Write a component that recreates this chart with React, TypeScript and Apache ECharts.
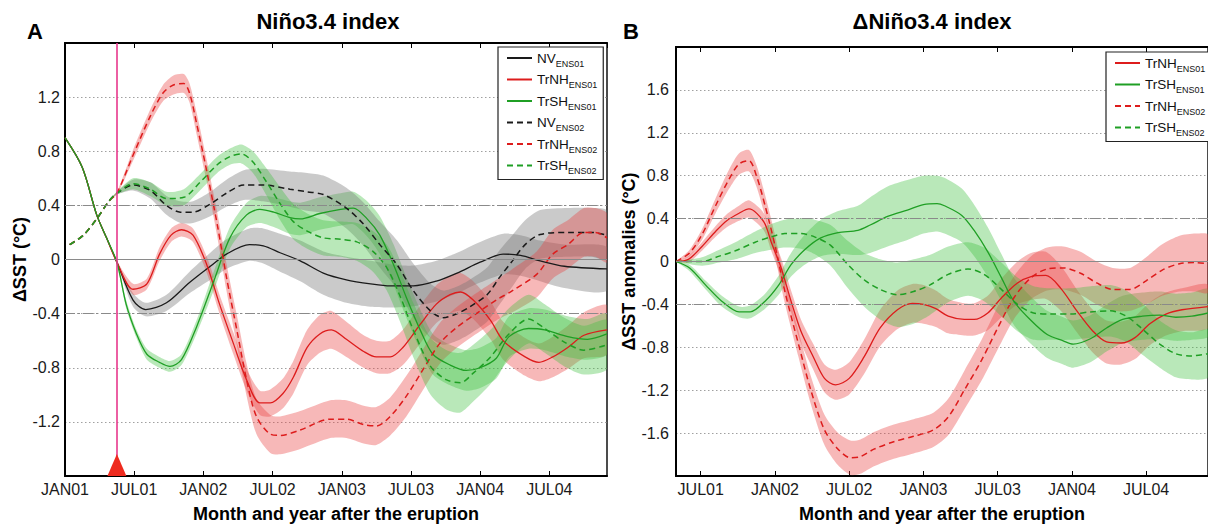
import React, { useEffect, useRef } from "react";
import * as echarts from "echarts";

// [month since JAN01, mean anomaly (°C), ensemble spread half-width (°C)]
type P = [number, number, number];

const xTickMonths = [0, 6, 12, 18, 24, 30, 36, 42];
const xTickLabels = ["JAN01", "JUL01", "JAN02", "JUL02", "JAN03", "JUL03", "JAN04", "JUL04"];
const eruptionMonth = 4.5;
const refLines = [0.4, -0.4];

// ---- Panel A : Niño3.4 index ----
const NV_ENS01: P[] = [
  [0, 0.9, 0], [1.5, 0.68, 0], [2.75, 0.33, 0], [3.6, 0.16, 0], [4.5, -0.02, 0.01],
  [5.9, -0.3, 0.05], [7, -0.37, 0.05], [8.8, -0.32, 0.06], [10.8, -0.17, 0.08], [12.6, -0.05, 0.1],
  [14, 0.04, 0.11], [16, 0.11, 0.12], [17.2, 0.1, 0.13], [18.65, 0.05, 0.14], [20.4, -0.01, 0.15],
  [22.4, -0.1, 0.16], [24.4, -0.15, 0.17], [26.5, -0.18, 0.17], [28.2, -0.195, 0.16], [30.2, -0.195, 0.15],
  [32.2, -0.16, 0.15], [34, -0.1, 0.15], [36, -0.02, 0.15], [38, 0.04, 0.15], [39.5, 0.03, 0.15],
  [41.2, -0.01, 0.15], [43.3, -0.05, 0.16], [47, -0.07, 0.16],
];
const TrNH_ENS01: P[] = [
  [0, 0.9, 0], [1.5, 0.68, 0], [2.75, 0.33, 0], [3.6, 0.16, 0], [4.5, -0.02, 0.01],
  [5.9, -0.22, 0.04], [7.1, -0.18, 0.04], [8.2, 0.04, 0.05], [9.2, 0.18, 0.05], [10.1, 0.22, 0.05],
  [11.1, 0.18, 0.05], [12.3, -0.04, 0.06], [13.4, -0.33, 0.07], [14.6, -0.62, 0.08], [15.75, -0.89, 0.08],
  [16.9, -1.06, 0.09], [17.8, -1.06, 0.1], [18.9, -0.99, 0.11], [19.8, -0.87, 0.12], [21, -0.65, 0.13],
  [22.1, -0.55, 0.14], [23.1, -0.52, 0.14], [24.4, -0.59, 0.13], [25.9, -0.68, 0.12], [27, -0.72, 0.12],
  [28.2, -0.72, 0.12], [29.3, -0.65, 0.13], [30.8, -0.48, 0.14], [32.2, -0.33, 0.14], [33.4, -0.26, 0.14],
  [34.3, -0.24, 0.14], [35.4, -0.3, 0.14], [36.9, -0.45, 0.14], [38, -0.6, 0.14], [39.9, -0.72, 0.14],
  [41.1, -0.76, 0.14], [42.3, -0.72, 0.15], [43.6, -0.65, 0.16], [45, -0.56, 0.17], [47, -0.52, 0.18],
];
const TrSH_ENS01: P[] = [
  [0, 0.9, 0], [1.5, 0.68, 0], [2.75, 0.33, 0], [3.6, 0.16, 0], [4.5, -0.02, 0.01],
  [5.3, -0.33, 0.03], [6.2, -0.55, 0.03], [7.1, -0.7, 0.04], [8.2, -0.76, 0.04], [9.1, -0.79, 0.04],
  [10.1, -0.74, 0.04], [11.4, -0.5, 0.05], [12.9, -0.16, 0.07], [14.3, 0.16, 0.08], [15.75, 0.33, 0.09],
  [16.9, 0.37, 0.1], [18.1, 0.35, 0.11], [19.5, 0.31, 0.12], [20.4, 0.3, 0.12], [22.1, 0.34, 0.12],
  [23.9, 0.37, 0.12], [25, 0.38, 0.12], [26.2, 0.3, 0.13], [27.3, 0.18, 0.14], [28.5, -0.04, 0.15],
  [29.6, -0.28, 0.15], [30.8, -0.52, 0.15], [31.9, -0.7, 0.15], [33.4, -0.78, 0.15], [34.8, -0.82, 0.15],
  [36, -0.8, 0.15], [37.4, -0.73, 0.15], [38.5, -0.57, 0.15], [40.2, -0.51, 0.15], [41.6, -0.52, 0.15],
  [43.6, -0.57, 0.15], [45.3, -0.59, 0.15], [47, -0.55, 0.15],
];
const NV_ENS02: P[] = [
  [0.4, 0.11, 0], [1.6, 0.18, 0], [2.75, 0.3, 0], [3.8, 0.43, 0], [4.5, 0.49, 0.01],
  [5.9, 0.55, 0.04], [7.4, 0.51, 0.06], [8.8, 0.4, 0.07], [10, 0.35, 0.08], [11.1, 0.35, 0.08],
  [12.6, 0.41, 0.09], [14, 0.49, 0.1], [15.5, 0.55, 0.11], [17.2, 0.55, 0.12], [19.5, 0.52, 0.13],
  [21, 0.5, 0.14], [22.4, 0.48, 0.14], [24.4, 0.38, 0.15], [25.9, 0.26, 0.16], [27.3, 0.11, 0.17],
  [28.8, -0.04, 0.18], [30.2, -0.23, 0.2], [31.7, -0.38, 0.2], [32.8, -0.43, 0.2], [34, -0.4, 0.2],
  [35.1, -0.35, 0.2], [36.6, -0.26, 0.2], [37.7, -0.13, 0.2], [38.8, -0.01, 0.19], [39.9, 0.11, 0.18],
  [41.2, 0.185, 0.18], [43.6, 0.2, 0.18], [45.7, 0.2, 0.18], [47, 0.18, 0.18],
];
const TrNH_ENS02: P[] = [
  [0.4, 0.11, 0], [1.6, 0.18, 0], [2.75, 0.3, 0], [3.8, 0.43, 0], [4.5, 0.49, 0.01],
  [5.9, 0.77, 0.04], [7.4, 1.06, 0.05], [8.5, 1.23, 0.06], [9.4, 1.29, 0.07], [10.3, 1.3, 0.07],
  [10.8, 1.23, 0.07], [11.4, 1.01, 0.08], [12.3, 0.65, 0.08], [13.2, 0.26, 0.09], [14, -0.13, 0.1],
  [14.9, -0.52, 0.11], [15.75, -0.89, 0.12], [16.6, -1.16, 0.13], [17.8, -1.29, 0.14], [18.65, -1.3, 0.14],
  [20.4, -1.26, 0.14], [23, -1.18, 0.14], [24.4, -1.18, 0.14], [25.9, -1.22, 0.14], [27, -1.23, 0.14],
  [28.2, -1.16, 0.14], [29.6, -1.01, 0.15], [31, -0.82, 0.15], [32.5, -0.62, 0.15], [34, -0.5, 0.15],
  [36, -0.38, 0.15], [37.4, -0.3, 0.15], [38.8, -0.23, 0.16], [40.9, -0.11, 0.17], [42.3, 0.04, 0.18],
  [43.6, 0.11, 0.18], [45, 0.2, 0.18], [46, 0.2, 0.18], [47, 0.16, 0.18],
];
const TrSH_ENS02: P[] = [
  [0.4, 0.11, 0], [1.6, 0.18, 0], [2.75, 0.3, 0], [3.8, 0.43, 0], [4.5, 0.49, 0.01],
  [5.9, 0.56, 0.04], [7.4, 0.52, 0.05], [8.8, 0.45, 0.05], [10.3, 0.46, 0.06], [11.7, 0.57, 0.06],
  [13.2, 0.7, 0.06], [14.3, 0.76, 0.06], [15.3, 0.78, 0.07], [16.3, 0.72, 0.08], [17.5, 0.57, 0.1],
  [18.6, 0.42, 0.12], [19.8, 0.28, 0.13], [21, 0.21, 0.13], [22.4, 0.16, 0.13], [23.9, 0.15, 0.13],
  [25.3, 0.13, 0.14], [26.7, 0.06, 0.15], [27.9, -0.06, 0.17], [29.1, -0.28, 0.19], [30.2, -0.52, 0.2],
  [31.7, -0.79, 0.21], [33.1, -0.89, 0.22], [34.3, -0.91, 0.22], [35.4, -0.84, 0.21], [36.9, -0.72, 0.2],
  [38.5, -0.55, 0.19], [40.2, -0.44, 0.18], [41.6, -0.51, 0.18], [43.3, -0.61, 0.18], [45, -0.67, 0.18],
  [47, -0.63, 0.18],
];

// ---- Panel B : ΔNiño3.4 index (difference to NV) ----
const dTrNH_ENS01: P[] = [
  [4, 0, 0], [5, 0.02, 0.03], [6.1, 0.14, 0.04], [7.2, 0.28, 0.05], [8.1, 0.38, 0.06],
  [9.1, 0.45, 0.07], [9.9, 0.49, 0.08], [11.1, 0.37, 0.08], [11.7, 0.18, 0.08], [12.5, -0.06, 0.09],
  [13.3, -0.37, 0.1], [14.1, -0.65, 0.11], [15.1, -0.89, 0.12], [16, -1.09, 0.13], [16.9, -1.15, 0.14],
  [18, -1.09, 0.15], [19.2, -0.89, 0.16], [20.5, -0.62, 0.17], [21.9, -0.45, 0.18], [23.1, -0.39, 0.18],
  [24, -0.4, 0.18], [25, -0.44, 0.17], [26, -0.51, 0.16], [27.3, -0.54, 0.15], [28.1, -0.54, 0.15],
  [29.2, -0.48, 0.16], [30.3, -0.34, 0.18], [31.6, -0.2, 0.2], [32.7, -0.14, 0.22], [33.9, -0.13, 0.22],
  [35.1, -0.25, 0.21], [36.4, -0.46, 0.2], [37.7, -0.65, 0.2], [38.8, -0.75, 0.2], [40, -0.76, 0.2],
  [41.1, -0.71, 0.2], [42.3, -0.58, 0.2], [43.6, -0.49, 0.2], [44.9, -0.45, 0.2], [47, -0.42, 0.2],
];
const dTrSH_ENS01: P[] = [
  [4, 0, 0], [5.1, -0.06, 0.03], [6.4, -0.22, 0.04], [7.7, -0.37, 0.05], [9.1, -0.47, 0.05],
  [10, -0.47, 0.06], [11.2, -0.37, 0.07], [12.3, -0.22, 0.09], [13.3, -0.03, 0.11], [14.4, 0.11, 0.14],
  [15.7, 0.22, 0.17], [17.1, 0.27, 0.2], [18.7, 0.29, 0.23], [19.7, 0.34, 0.26], [21.1, 0.42, 0.28],
  [22.7, 0.48, 0.28], [24, 0.53, 0.27], [25.1, 0.54, 0.26], [25.7, 0.52, 0.26], [27.1, 0.43, 0.25],
  [28.1, 0.29, 0.24], [29.2, 0.09, 0.23], [30.3, -0.15, 0.22], [31.3, -0.37, 0.22], [32.7, -0.55, 0.22],
  [34, -0.68, 0.22], [35.3, -0.74, 0.22], [36.1, -0.77, 0.22], [37.5, -0.72, 0.22], [38.8, -0.62, 0.22],
  [40.1, -0.54, 0.22], [41.7, -0.51, 0.22], [43.1, -0.5, 0.22], [44.4, -0.52, 0.22], [45.7, -0.51, 0.22],
  [47, -0.48, 0.22],
];
const dTrNH_ENS02: P[] = [
  [4, 0, 0], [5.1, 0.08, 0.03], [6.1, 0.25, 0.05], [7.2, 0.52, 0.07], [8.3, 0.77, 0.09],
  [9.1, 0.91, 0.1], [9.9, 0.94, 0.1], [10.5, 0.8, 0.1], [11.2, 0.52, 0.1], [12, 0.15, 0.1],
  [12.8, -0.28, 0.11], [13.9, -0.77, 0.12], [14.9, -1.2, 0.13], [16, -1.57, 0.14], [17.1, -1.75, 0.15],
  [18.1, -1.83, 0.16], [18.9, -1.82, 0.16], [20, -1.75, 0.16], [21.6, -1.68, 0.16], [23.2, -1.63, 0.16],
  [24.8, -1.57, 0.16], [26, -1.45, 0.17], [27.3, -1.2, 0.18], [28.7, -0.92, 0.19], [30, -0.62, 0.2],
  [31.3, -0.34, 0.2], [32.7, -0.15, 0.2], [34, -0.07, 0.2], [35.3, -0.06, 0.2], [36.7, -0.11, 0.2],
  [38, -0.2, 0.2], [39.3, -0.26, 0.2], [40.7, -0.26, 0.2], [42, -0.18, 0.22], [43.3, -0.08, 0.24],
  [44.7, -0.02, 0.26], [46, -0.01, 0.27], [47, -0.02, 0.27],
];
const dTrSH_ENS02: P[] = [
  [4, 0, 0], [6.1, 0, 0.04], [7.5, 0.05, 0.06], [8.8, 0.1, 0.08], [10.4, 0.18, 0.1],
  [11.7, 0.23, 0.12], [12.8, 0.26, 0.13], [14.1, 0.26, 0.14], [15.2, 0.23, 0.16], [16.5, 0.15, 0.19],
  [17.9, -0.03, 0.22], [19.2, -0.17, 0.25], [20.5, -0.26, 0.28], [21.9, -0.31, 0.3], [23.2, -0.28, 0.3],
  [24.5, -0.22, 0.28], [26, -0.12, 0.26], [27.6, -0.07, 0.25], [28.9, -0.12, 0.25], [30.3, -0.26, 0.25],
  [31.6, -0.4, 0.25], [32.9, -0.48, 0.25], [34.3, -0.49, 0.24], [35.9, -0.49, 0.24], [37.5, -0.47, 0.24],
  [39.1, -0.46, 0.24], [40.4, -0.51, 0.24], [41.7, -0.63, 0.24], [43.1, -0.77, 0.22], [44.4, -0.86, 0.22],
  [45.7, -0.88, 0.22], [47, -0.86, 0.22],
];

const FONT = '"Liberation Sans", Arial, Helvetica, sans-serif';
const RED = "#dd1c1c";
const GREEN = "#1f9f24";
const BLACK = "#1a1a1a";
const BAND = {
  red: "rgba(232, 62, 62, 0.37)",
  green: "rgba(62, 190, 62, 0.36)",
  grey: "rgba(115, 115, 115, 0.38)",
};

type Spec = { name: string; pts: P[]; color: string; band: string; dashed: boolean };

function buildSeries(specs: Spec[], xi: number, yi: number): any[] {
  const out: any[] = [];
  specs.forEach((s, k) => {
    const pts = s.pts;
    out.push({
      type: "custom",
      name: `band-${xi}-${k}`,
      xAxisIndex: xi,
      yAxisIndex: yi,
      silent: true,
      clip: true,
      data: pts.map((p) => [p[0], p[1] - p[2], p[1] + p[2]]),
      encode: { x: 0, y: [1, 2] },
      renderItem: (params: any, api: any) => {
        if (params.dataIndex !== 0) return null;
        const upper = pts.map((p) => api.coord([p[0], p[1] + p[2]]));
        const lower = pts.map((p) => api.coord([p[0], p[1] - p[2]])).reverse();
        return {
          type: "polygon",
          shape: { points: upper.concat(lower), smooth: 0.25 },
          style: { fill: s.band, stroke: "none" },
        };
      },
    });
    out.push({
      type: "line",
      name: s.name,
      xAxisIndex: xi,
      yAxisIndex: yi,
      data: pts.map((p) => [p[0], p[1]]),
      symbol: "none",
      smooth: 0.3,
      itemStyle: { color: s.color },
      lineStyle: { color: s.color, width: s.dashed ? 1.5 : 1.3, type: s.dashed ? [6, 4] : "solid" },
    });
  });
  return out;
}

function legendFormatter(name: string) {
  const [a, b] = name.split("_");
  return `{m|${a}}{s|${b}}`;
}

const legendRich = {
  m: { fontSize: 13.5, fontFamily: FONT, color: "#111", lineHeight: 14, verticalAlign: "top" },
  s: { fontSize: 9, fontFamily: FONT, color: "#111", lineHeight: 9, padding: [8, 0, 0, 0], verticalAlign: "top" },
};

function tickLabel(v: number) {
  const i = xTickMonths.indexOf(Math.round(v * 100) / 100);
  return i >= 0 ? xTickLabels[i] : "";
}

function yLabel(limit: number) {
  return (v: number) => {
    if (Math.abs(v) > limit - 0.01) return "";
    if (Math.abs(v) < 1e-6) return "0";
    return v.toFixed(1);
  };
}

export default function App() {
  const ref = useRef<HTMLDivElement>(null);

  useEffect(() => {
    if (!ref.current) return;
    const chart = echarts.init(ref.current, undefined, { renderer: "svg" });

    const leftSpecs: Spec[] = [
      { name: "NV_ENS01", pts: NV_ENS01, color: BLACK, band: BAND.grey, dashed: false },
      { name: "TrNH_ENS01", pts: TrNH_ENS01, color: RED, band: BAND.red, dashed: false },
      { name: "TrSH_ENS01", pts: TrSH_ENS01, color: GREEN, band: BAND.green, dashed: false },
      { name: "NV_ENS02", pts: NV_ENS02, color: BLACK, band: BAND.grey, dashed: true },
      { name: "TrNH_ENS02", pts: TrNH_ENS02, color: RED, band: BAND.red, dashed: true },
      { name: "TrSH_ENS02", pts: TrSH_ENS02, color: GREEN, band: BAND.green, dashed: true },
    ];
    const rightSpecs: Spec[] = [
      { name: "TrNH_ENS01", pts: dTrNH_ENS01, color: RED, band: BAND.red, dashed: false },
      { name: "TrSH_ENS01", pts: dTrSH_ENS01, color: GREEN, band: BAND.green, dashed: false },
      { name: "TrNH_ENS02", pts: dTrNH_ENS02, color: RED, band: BAND.red, dashed: true },
      { name: "TrSH_ENS02", pts: dTrSH_ENS02, color: GREEN, band: BAND.green, dashed: true },
    ];

    const refMarkLine = () => ({
      silent: true,
      symbol: "none",
      label: { show: false },
      data: [
        { yAxis: 0, lineStyle: { color: "#8a8a8a", width: 1.2, type: "solid" } },
        ...refLines.map((v) => ({ yAxis: v, lineStyle: { color: "#8a8a8a", width: 1.2, type: [10, 3, 2, 3] } })),
      ],
    });

    const axisName = { fontFamily: FONT, fontWeight: "bold", fontSize: 18, color: "#000" };
    const tickText = { fontFamily: FONT, fontSize: 16, color: "#1a1a1a" };
    const dotted = { show: true, lineStyle: { color: "#a0a0a0", width: 1, type: [1.5, 2.5] } };
    const frameTick = { inside: true, length: 5, lineStyle: { color: "#000", width: 1 } };

    const legendBase = {
      orient: "vertical",
      itemWidth: 25, itemHeight: 10, itemGap: 4.5,
      padding: [4, 6, 4, 8],
      borderColor: "#222", borderWidth: 1.2, backgroundColor: "#fff",
      formatter: legendFormatter,
      textStyle: { rich: legendRich },
      itemStyle: { opacity: 0 },
      selectedMode: false,
    };

    const option: any = {
      animation: false,
      backgroundColor: "#ffffff",
      grid: [
        { left: 65, right: 1208 - 607, top: 43, bottom: 48, show: true, borderColor: "#000", borderWidth: 1.4 },
        { left: 676, right: -6, top: 47, bottom: 48, show: true, borderColor: "#000", borderWidth: 1.4 },
      ],
      xAxis: [
        {
          gridIndex: 0, type: "value", min: 0, max: 47, interval: 6, position: "bottom",
          axisLine: { onZero: false, lineStyle: { color: "#000", width: 2 } },
          axisTick: frameTick,
          axisLabel: { ...tickText, margin: 5, formatter: tickLabel, showMaxLabel: false },
          splitLine: { show: false },
          name: "Month and year after the eruption", nameLocation: "middle", nameGap: 29, nameTextStyle: axisName,
        },
        {
          gridIndex: 0, type: "value", min: 0, max: 47, interval: 6, position: "top",
          axisLine: { onZero: false, lineStyle: { color: "#000", width: 2 } },
          axisTick: frameTick,
          axisLabel: { show: false }, splitLine: { show: false },
        },
        {
          gridIndex: 1, type: "value", min: 4, max: 47, position: "bottom",
          axisLine: { onZero: false, lineStyle: { color: "#000", width: 2 } },
          axisTick: { ...frameTick, customValues: xTickMonths.slice(1) },
          axisLabel: { ...tickText, margin: 5, customValues: xTickMonths.slice(1), formatter: tickLabel },
          splitLine: { show: false },
          name: "Month and year after the eruption", nameLocation: "middle", nameGap: 29, nameTextStyle: axisName,
        },
        {
          gridIndex: 1, type: "value", min: 4, max: 47, position: "top",
          axisLine: { onZero: false, lineStyle: { color: "#000", width: 2 } },
          axisTick: { ...frameTick, customValues: xTickMonths.slice(1) },
          axisLabel: { show: false }, splitLine: { show: false },
        },
      ],
      yAxis: [
        {
          gridIndex: 0, type: "value", min: -1.6, max: 1.6, interval: 0.4,
          axisLine: { show: true, onZero: false, lineStyle: { color: "#000", width: 2 } },
          axisTick: { show: false },
          axisLabel: { ...tickText, margin: 5, formatter: yLabel(1.6) },
          splitLine: dotted,
          name: "ΔSST (°C)", nameLocation: "middle", nameGap: 36, nameRotate: 90, nameTextStyle: axisName,
        },
        {
          gridIndex: 1, type: "value", min: -2, max: 2, interval: 0.4,
          axisLine: { show: true, onZero: false, lineStyle: { color: "#000", width: 2 } },
          axisTick: { show: false },
          axisLabel: { ...tickText, margin: 7, formatter: yLabel(2) },
          splitLine: dotted,
          name: "ΔSST anomalies (°C)", nameLocation: "middle", nameGap: 31, nameRotate: 90, nameTextStyle: axisName,
        },
      ],
      legend: [
        { ...legendBase, data: leftSpecs.map((s) => s.name), left: 498, top: 47 },
        { ...legendBase, data: rightSpecs.map((s) => s.name), left: 1106, top: 52 },
      ],
      graphic: [
        { type: "text", x: 35, y: 31, style: { text: "A", fill: "#000", font: `bold 22px ${FONT}`, align: "center", verticalAlign: "middle" } },
        { type: "text", x: 328, y: 21, style: { text: "Niño3.4 index", fill: "#000", font: `bold 22px ${FONT}`, align: "center", verticalAlign: "middle" } },
        { type: "text", x: 631, y: 31, style: { text: "B", fill: "#000", font: `bold 22px ${FONT}`, align: "center", verticalAlign: "middle" } },
        { type: "text", x: 932, y: 21, style: { text: "ΔNiño3.4 index", fill: "#000", font: `bold 22px ${FONT}`, align: "center", verticalAlign: "middle" } },
      ],
      series: [
        {
          type: "line", name: "ref-left", xAxisIndex: 0, yAxisIndex: 0, data: [], symbol: "none",
          markLine: refMarkLine(),
        },
        ...buildSeries(leftSpecs, 0, 0),
        {
          type: "line", name: "eruption", xAxisIndex: 0, yAxisIndex: 0, data: [], symbol: "none",
          markLine: {
            silent: true, symbol: "none", label: { show: false },
            data: [{ xAxis: eruptionMonth, lineStyle: { color: "#e8388c", width: 1.6, type: "solid" } }],
          },
          markPoint: {
            silent: true,
            data: [{ coord: [eruptionMonth, -1.6], symbol: "triangle", symbolSize: [19, 22], symbolOffset: [0, -11], itemStyle: { color: "#ee2a1e" }, label: { show: false } }],
          },
        },
        {
          type: "line", name: "ref-right", xAxisIndex: 2, yAxisIndex: 1, data: [], symbol: "none",
          markLine: refMarkLine(),
        },
        ...buildSeries(rightSpecs, 2, 1),
      ],
    };

    chart.setOption(option);
    return () => chart.dispose();
  }, []);

  return (
    <div
      ref={ref}
      style={{ position: "fixed", left: 0, top: 0, width: 1208, height: 528, background: "#fff" }}
    />
  );
}
